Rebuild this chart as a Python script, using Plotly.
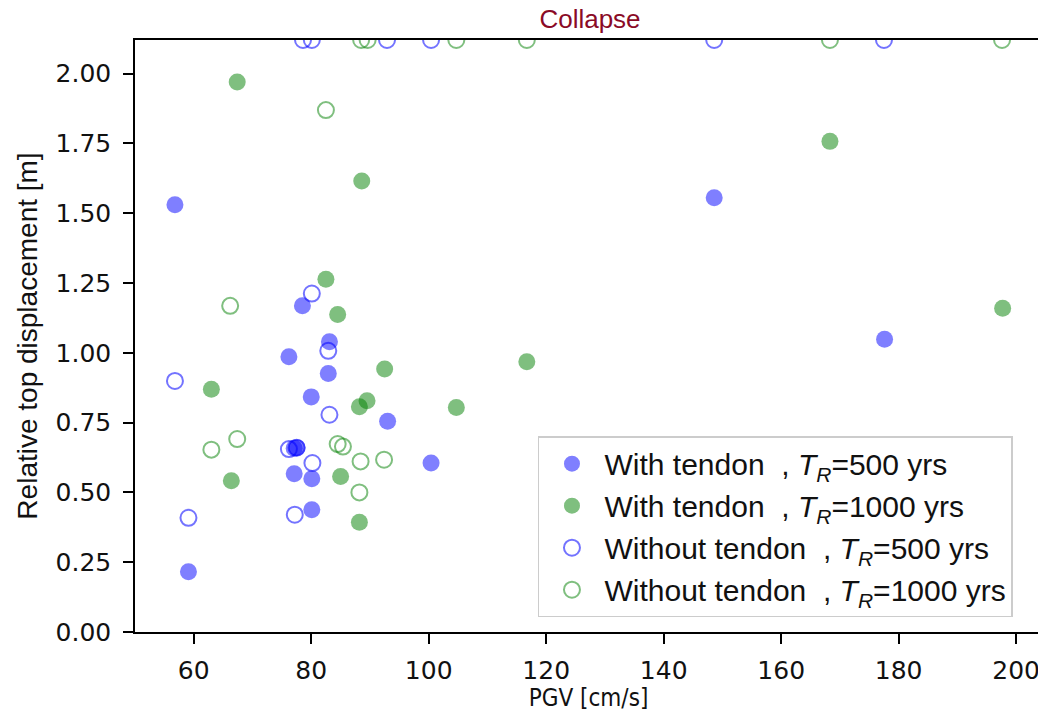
import plotly.graph_objects as go

COLLAPSE = 2.12

# With tendon, T_R = 500 yrs (filled blue)
wt500_x = [56.8, 148.6, 177.6, 78.5, 83.1, 76.2, 82.9, 80.0, 93.0, 77.1, 77.6, 77.1, 80.1, 100.4, 80.1, 59.1]
wt500_y = [1.530, 1.555, 1.048, 1.168, 1.039, 0.986, 0.926, 0.842, 0.755, 0.658, 0.660, 0.567, 0.549, 0.605, 0.438, 0.216]

# With tendon, T_R = 1000 yrs (filled green)
wt1000_x = [67.4, 88.6, 168.3, 197.7, 82.5, 84.5, 116.7, 92.5, 63.0, 88.2, 89.5, 104.7, 85.0, 66.4, 88.2]
wt1000_y = [1.970, 1.615, 1.757, 1.159, 1.263, 1.137, 0.968, 0.942, 0.869, 0.807, 0.828, 0.804, 0.557, 0.542, 0.393]

# Without tendon, T_R = 500 yrs (open blue); collapse cases plotted at top
wo500_x = [56.8, 59.1, 76.2, 77.5, 77.2, 80.1, 80.2, 82.9, 83.1, 78.6, 80.1, 92.9, 100.4, 148.6, 177.5]
wo500_y = [0.899, 0.409, 0.655, 0.660, 0.420, 1.212, 0.605, 1.007, 0.778,
           COLLAPSE, COLLAPSE, COLLAPSE, COLLAPSE, COLLAPSE, COLLAPSE]

# Without tendon, T_R = 1000 yrs (open green)
wo1000_x = [82.5, 66.2, 63.0, 67.4, 84.5, 85.4, 88.4, 92.4, 88.2, 88.5, 89.6, 104.7, 116.7, 168.3, 197.6]
wo1000_y = [1.869, 1.168, 0.653, 0.691, 0.673, 0.664, 0.611, 0.617, 0.500,
            COLLAPSE, COLLAPSE, COLLAPSE, COLLAPSE, COLLAPSE, COLLAPSE]

x_ticks = [60, 80, 100, 120, 140, 160, 180, 200]
y_ticks = [0.0, 0.25, 0.5, 0.75, 1.0, 1.25, 1.5, 1.75, 2.0]

BLUE_F = "rgba(0,0,255,0.5)"
GREEN_F = "rgba(0,128,0,0.5)"
BLUE_O = "rgba(0,0,255,0.55)"
GREEN_O = "rgba(0,128,0,0.5)"

sp = "&nbsp;"
def lab(a, tr):
    return f"{a}{sp}{sp}, <i>T</i><sub><i>R</i></sub>={tr} yrs"

fig = go.Figure()
fig.add_trace(go.Scatter(x=wt500_x, y=wt500_y, mode="markers", legendgroup="a",
                         name=lab("With tendon", 500),
                         marker=dict(symbol="circle", size=17, color=BLUE_F, line=dict(width=0))))
fig.add_trace(go.Scatter(x=wt1000_x, y=wt1000_y, mode="markers", legendgroup="b",
                         name=lab("With tendon", 1000),
                         marker=dict(symbol="circle", size=17, color=GREEN_F, line=dict(width=0))))
fig.add_trace(go.Scatter(x=wo500_x, y=wo500_y, mode="markers", legendgroup="c",
                         name=lab("Without tendon", 500),
                         marker=dict(symbol="circle-open", size=16, color=BLUE_O, line=dict(width=2, color=BLUE_O))))
fig.add_trace(go.Scatter(x=wo1000_x, y=wo1000_y, mode="markers", legendgroup="d",
                         name=lab("Without tendon", 1000),
                         marker=dict(symbol="circle-open", size=16, color=GREEN_O, line=dict(width=2, color=GREEN_O))))

fig.update_layout(
    width=1038, height=704,
    margin=dict(l=127, r=4, t=32, b=80),
    paper_bgcolor="white", plot_bgcolor="white",
    title=dict(text="Collapse", x=0.5607, xanchor="center", y=0.984, yanchor="middle",
               font=dict(family="Liberation Sans, Arial", size=26, color="#8a0a26")),
    legend=dict(x=0.968, xanchor="right", y=0.025, yanchor="bottom",
                bgcolor="white", bordercolor="#cccccc", borderwidth=1.5,
                font=dict(family="Liberation Sans, Arial", size=30, color="#111111"),
                tracegroupgap=0, itemsizing="trace", itemwidth=55),
    showlegend=True,
)
fig.update_xaxes(range=[50, 204.4], tickvals=x_ticks, ticktext=[str(v) for v in x_ticks],
                 automargin=False,
                 showgrid=False, zeroline=False, showline=True, linecolor="black", linewidth=1.5,
                 mirror=True, ticks="outside", ticklen=10, tickwidth=1.5, tickcolor="black",
                 ticklabelstandoff=5,
                 tickfont=dict(family="DejaVu Sans", size=25, color="#111111"),
                 title=dict(text="PGV [cm/s]", standoff=8,
                            font=dict(family="Liberation Sans Narrow, DejaVu Sans Condensed, DejaVu Sans", size=24, color="#111111")))
fig.update_yaxes(range=[0, COLLAPSE], tickvals=y_ticks, tickformat=".2f",
                 automargin=False,
                 showgrid=False, zeroline=False, showline=True, linecolor="black", linewidth=1.5,
                 mirror=True, ticks="outside", ticklen=10, tickwidth=1.5, tickcolor="black",
                 ticklabelstandoff=7,
                 tickfont=dict(family="DejaVu Sans", size=25, color="#111111"),
                 title=dict(text="Relative top displacement [m]", standoff=10,
                            font=dict(family="Liberation Sans, Arial", size=28, color="#111111")))

fig.write_html("out.html")
